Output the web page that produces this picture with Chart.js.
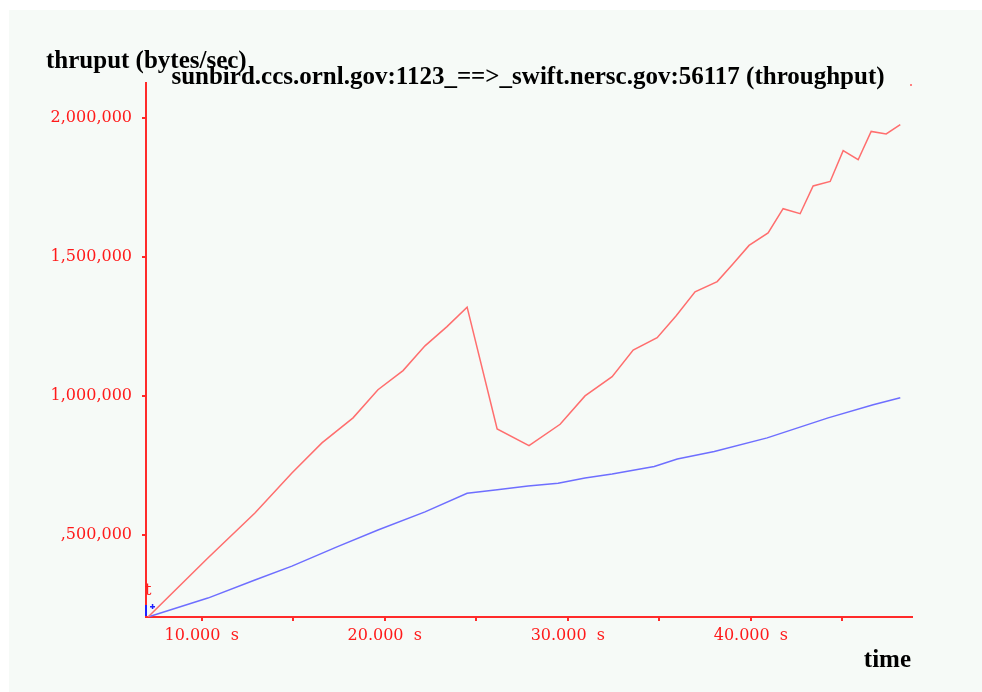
<!DOCTYPE html>
<html>
<head>
<meta charset="utf-8">
<script src="https://cdn.jsdelivr.net/npm/chart.js@4.4.1/dist/chart.umd.min.js"></script>
<style>
  html, body { margin: 0; padding: 0; background: #ffffff; }
  #wrap { width: 982px; height: 692px; }
</style>
</head>
<body>
<div id="wrap"><canvas id="myChart" width="982" height="692"></canvas></div>
<script>
// 차트 텍스트
var chartTitle = 'sunbird.ccs.ornl.gov:1123_==>_swift.nersc.gov:56117 (throughput)';
var yAxisTitle = 'thruput (bytes/sec)';
var xAxisTitle = 'time';

// 빨간 선 (시간 s, bytes/sec)
var redTimes = [7070, 10340, 12910, 14930, 16570, 18270, 19630, 21000, 22200, 23400,
    24500, 26140, 27880, 29580, 30940, 32420, 33570, 34880, 35920, 36950,
    38160, 39030, 39900, 40940, 41760, 42690, 43400, 44330, 45040, 45860,
    46570, 47390, 48160];
var redThruput = [205000, 417000, 579000, 723000, 831000, 921000, 1022000, 1091000, 1180000, 1249000,
    1319000, 881000, 821000, 898000, 1000000, 1069000, 1165000, 1209000, 1288000, 1374000,
    1411000, 1475000, 1541000, 1586000, 1673000, 1655000, 1755000, 1771000, 1882000, 1849000,
    1951000, 1942000, 1975000];

// 파란 선
var blueTimes = [7070, 10340, 12910, 14930, 17390, 19630, 22200, 24500, 26030, 27830,
    29470, 30940, 32420, 34720, 35980, 38000, 40890, 44220, 46680, 48160];
var blueThruput = [205000, 273000, 338000, 388000, 457000, 518000, 583000, 650000, 662000, 676000,
    686000, 705000, 719000, 746000, 773000, 800000, 849000, 921000, 968000, 993000];

// 축 눈금
var xTicks = [10000, 15000, 20000, 25000, 30000, 35000, 40000, 45000];
var xTickLabels = ['10.000  s', '', '20.000  s', '', '30.000  s', '', '40.000  s', ''];
var yTicks = [500000, 1000000, 1500000, 2000000];
var yTickLabels = [',500,000', '1,000,000', '1,500,000', '2,000,000'];

function toPoints(xs, ys) {
    var pts = [];
    for (var i = 0; i < xs.length; i++) {
        pts.push({ x: xs[i], y: ys[i] });
    }
    return pts;
}

var axisRed = '#ff2a2a';

// 배경, 제목, 작은 표시들
var decorPlugin = {
    id: 'decor',
    beforeDraw: function(chart) {
        var c = chart.ctx;
        c.save();
        c.fillStyle = '#ffffff';
        c.fillRect(0, 0, chart.width, chart.height);
        c.fillStyle = '#f6faf7';
        c.fillRect(9, 10, chart.width - 9, chart.height - 10);
        c.restore();
    },
    afterDraw: function(chart) {
        var c = chart.ctx;
        var area = chart.chartArea;
        var xs = chart.scales.x;
        var ys = chart.scales.y;
        c.save();
        c.fillStyle = '#000000';
        c.font = 'bold 25px "Liberation Serif"';
        c.textBaseline = 'alphabetic';
        c.textAlign = 'left';
        c.fillText(yAxisTitle, 46, 68);
        c.textAlign = 'center';
        c.fillText(chartTitle, (area.left + area.right) / 2 - 1, area.top + 1);
        c.textAlign = 'right';
        c.fillText(xAxisTitle, area.right - 1, 667);

        // 원점 근처의 't' 와 파란 표시
        var ox = xs.getPixelForValue(redTimes[0]);
        var oy = ys.getPixelForValue(redThruput[0]);
        c.fillStyle = '#ff2020';
        c.font = '16px "DejaVu Serif"';
        c.textAlign = 'left';
        c.fillText('t', area.left - 1, oy - 22);
        c.fillStyle = '#2020ff';
        c.fillRect(area.left - 1, oy - 12, 2, 11);
        c.fillRect(ox + 2, oy - 11, 5, 1.5);
        c.fillRect(ox + 3.8, oy - 13, 1.5, 5);

        // 오른쪽 위 작은 점
        c.fillStyle = '#ff8080';
        c.fillRect(area.right - 2, area.top + 1, 2, 2);
        c.restore();
    }
};

var ctx = document.getElementById('myChart').getContext('2d');
var myChart = new Chart(ctx, {
    type: 'line',
    data: {
        datasets: [{
            label: 'throughput',
            data: toPoints(redTimes, redThruput),
            borderColor: 'rgba(255,110,110,1)',
            borderWidth: 1.5,
            pointRadius: 0,
            tension: 0,
            fill: false
        },
        {
            label: 'average',
            data: toPoints(blueTimes, blueThruput),
            borderColor: 'rgba(110,110,255,1)',
            borderWidth: 1.5,
            pointRadius: 0,
            tension: 0,
            fill: false
        }]
    },
    options: {
        responsive: false,
        animation: false,
        devicePixelRatio: 1,
        layout: {
            padding: { left: 0, right: 70, top: 83, bottom: 0 }
        },
        plugins: {
            legend: { display: false },
            title: { display: false },
            tooltip: { enabled: false }
        },
        scales: {
            x: {
                type: 'linear',
                min: 6960,
                max: 48800,
                afterBuildTicks: function(scale) {
                    scale.ticks = xTicks.map(function(v) { return { value: v }; });
                },
                afterFit: function(scale) {
                    scale.height = 75;
                },
                border: { display: true, color: axisRed, width: 2 },
                grid: { display: true, drawOnChartArea: false, drawTicks: true, tickLength: 4, color: axisRed, lineWidth: 2 },
                ticks: {
                    autoSkip: false,
                    maxRotation: 0,
                    padding: 5,
                    color: '#ff1a1a',
                    font: { family: '"DejaVu Serif"', size: 16 },
                    callback: function(value, index) {
                        return xTickLabels[index];
                    }
                }
            },
            y: {
                type: 'linear',
                min: 205000,
                max: 2125000,
                afterBuildTicks: function(scale) {
                    scale.ticks = yTicks.map(function(v) { return { value: v }; });
                },
                afterFit: function(scale) {
                    scale.width = 146;
                },
                border: { display: true, color: axisRed, width: 2 },
                grid: { display: true, drawOnChartArea: false, drawTicks: true, tickLength: 4, color: axisRed, lineWidth: 2 },
                ticks: {
                    autoSkip: false,
                    padding: 10,
                    color: '#ff1a1a',
                    font: { family: '"DejaVu Serif"', size: 16 },
                    callback: function(value, index) {
                        return yTickLabels[index];
                    }
                }
            }
        }
    },
    plugins: [decorPlugin]
});
</script>
</body>
</html>
